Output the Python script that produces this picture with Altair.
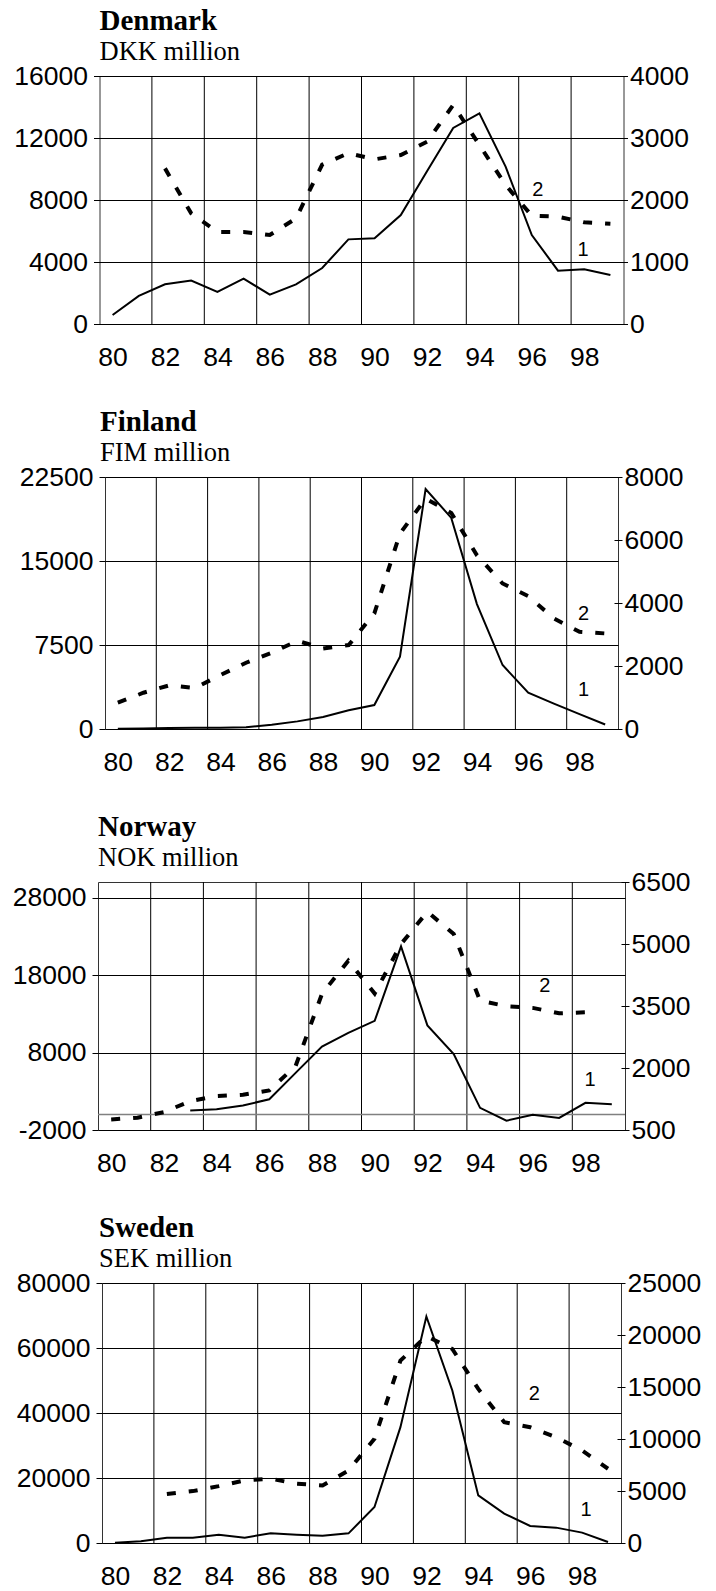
import altair as alt
import pandas as pd

# Years 1980-1999, shown as two-digit labels
years = list(range(80, 100))
even_years = [y for y in years if y % 2 == 0]
band_edges = [y + 0.5 for y in years if y % 2 == 1 and y < 99]

# Denmark, DKK million (series 1 on left axis, series 2 on right axis)
dk_s1 = [580, 1810, 2560, 2800, 2070, 2930, 1890, 2560, 3610, 5460,
         5530, 7030, 9850, 12650, 13590, 10150, 5740, 3440, 3530, 3160]
dk_s2 = [None, None, 2510, 1785, 1484, 1484, 1435, 1704, 2570, 2755,
         2656, 2726, 2940, 3532, 2887, 2242, 1747, 1731, 1640, 1618]

# Finland, FIM million
fi_s1 = [30, 50, 100, 110, 110, 160, 370, 680, 1070, 1670,
         2140, 6460, 21430, 18850, 11150, 5710, 3240, 2270, 1330, 400]
fi_s2 = [834, 1151, 1385, 1300, 1712, 2103, 2420, 2800, 2558, 2664,
         3668, 6205, 7315, 6860, 5517, 4620, 4217, 3510, 3085, 3034]

# Norway, NOK million
no_s1 = [None, None, None, 514, 690, 1157, 1970, 5370, 8760, 10540,
         12080, 21700, 11500, 7800, 860, -800, -40, -440, 1500, 1330]
no_s2 = [756, 797, 932, 1198, 1319, 1353, 1457, 2050, 3792, 4597,
         3800, 5000, 5780, 5241, 3630, 3493, 3454, 3324, 3348, None]

# Sweden, SEK million
se_s1 = [100, 520, 1650, 1650, 2560, 1650, 2970, 2560, 2250, 2970,
         11060, 35640, 69700, 46910, 14650, 9020, 5230, 4730, 3190, 300]
se_s2 = [None, None, 4703, 4990, 5470, 6017, 6180, 5700, 5537, 6977,
         10019, 17534, 19900, 18656, 14817, 11612, 11132, 10173, 8896, 7140]

# Series markers "1" and "2": (year, left-axis value)
dk_marks = [(96.23, 8645, "2"), (97.96, 4774, "1")]
fi_marks = [(98.16, 10268, "2"), (98.16, 3482, "1")]
no_marks = [(96.46, 16581, "2"), (98.17, 4499, "1")]
se_marks = [(96.16, 45900, "2"), (98.15, 10046, "1")]

SANS = "Liberation Sans"
SERIF = "Liberation Serif"
TICK_FONT = 26.5
# plain hyphen for negative tick labels
LABEL_EXPR = ("datum.value < 0 ? '-' + format(-datum.value, 'd') "
              ": format(datum.value, 'd')")


def panel(name, unit, s1, s2, marks, left_dom, left_ticks, right_dom,
          right_ticks, w, h, title_dx, zero_line=False):
    df = pd.DataFrame({"year": years, "s1": s1, "s2": s2})

    x_enc = alt.X(
        "year:Q",
        scale=alt.Scale(domain=[79.5, 99.5], nice=False, zero=False),
        axis=alt.Axis(values=even_years, format="d", title=None, grid=False,
                      ticks=False, domain=False, labelPadding=20,
                      labelFont=SANS, labelFontSize=TICK_FONT,
                      labelColor="black"),
    )
    y_left = alt.Y(
        "s1:Q",
        scale=alt.Scale(domain=left_dom, nice=False, zero=False),
        axis=alt.Axis(values=left_ticks, orient="left", labelExpr=LABEL_EXPR,
                      title=None, grid=True, gridColor="black", gridWidth=1,
                      gridOpacity=1, domain=False, tickSize=6,
                      tickColor="black", labelPadding=6, labelFont=SANS,
                      labelFontSize=TICK_FONT, labelColor="black"),
    )
    y_right = alt.Y(
        "s2:Q",
        scale=alt.Scale(domain=right_dom, nice=False, zero=False),
        axis=alt.Axis(values=right_ticks, orient="right", format="d",
                      title=None, grid=False, domain=False, tickSize=8,
                      offset=-4, tickColor="black", labelPadding=2,
                      labelFont=SANS, labelFontSize=TICK_FONT,
                      labelColor="black"),
    )

    # vertical grid between every second year
    edges = alt.Chart(pd.DataFrame({"year": band_edges})).mark_rule(
        color="black", strokeWidth=1
    ).encode(x=x_enc, y=alt.value(0), y2=alt.value(h))

    solid = alt.Chart(df).mark_line(color="black", strokeWidth=2).encode(
        x=x_enc, y=y_left
    )

    mark_df = pd.DataFrame({"year": [m[0] for m in marks],
                            "s1": [m[1] for m in marks],
                            "t": [m[2] for m in marks]})
    tags = alt.Chart(mark_df).mark_text(
        font=SANS, fontSize=20, color="black", align="center",
        baseline="middle"
    ).encode(x=x_enc, y=y_left, text="t:N")

    head = alt.Chart(pd.DataFrame({"t": [name]})).mark_text(
        font=SERIF, fontSize=29, fontWeight="bold", color="black",
        align="left", baseline="alphabetic"
    ).encode(x=alt.value(title_dx), y=alt.value(-46), text="t:N")

    sub = alt.Chart(pd.DataFrame({"t": [unit]})).mark_text(
        font=SERIF, fontSize=26.5, color="black", align="left",
        baseline="alphabetic"
    ).encode(x=alt.value(title_dx), y=alt.value(-16), text="t:N")

    left_layers = [edges]
    if zero_line:
        zero = alt.Chart(pd.DataFrame({"s1": [0]})).mark_rule(
            color="#808080", strokeWidth=1.5
        ).encode(y=y_left, x=alt.value(0), x2=alt.value(w))
        left_layers.append(zero)
    left_layers += [solid, tags, head, sub]

    dashed = alt.Chart(df).mark_line(
        color="black", strokeWidth=4, strokeDash=[9, 13], strokeCap="butt"
    ).encode(x=x_enc, y=y_right)

    return alt.layer(alt.layer(*left_layers), dashed).resolve_scale(
        y="independent"
    ).properties(width=w, height=h)


denmark = panel("Denmark", "DKK million", dk_s1, dk_s2, dk_marks,
                [0, 16000], [0, 4000, 8000, 12000, 16000],
                [0, 4000], [0, 1000, 2000, 3000, 4000],
                524, 248, 0)
finland = panel("Finland", "FIM million", fi_s1, fi_s2, fi_marks,
                [0, 22500], [0, 7500, 15000, 22500],
                [0, 8000], [0, 2000, 4000, 6000, 8000],
                513, 252, -5)
norway = panel("Norway", "NOK million", no_s1, no_s2, no_marks,
               [-2000, 30000], [-2000, 8000, 18000, 28000],
               [500, 6500], [500, 2000, 3500, 5000, 6500],
               527, 248, 0, zero_line=True)
sweden = panel("Sweden", "SEK million", se_s1, se_s2, se_marks,
               [0, 80000], [0, 20000, 40000, 60000, 80000],
               [0, 25000], [0, 5000, 10000, 15000, 20000, 25000],
               519, 260, -3)

chart = alt.vconcat(
    denmark, finland, norway, sweden, spacing=153, bounds="flush", center=True
).configure_view(
    stroke="#333333", strokeWidth=1
).properties(
    padding={"left": 11, "top": 6, "right": 4, "bottom": 0},
    background="white",
)

chart.save("out.html", embed_options={"renderer": "svg", "actions": False})
